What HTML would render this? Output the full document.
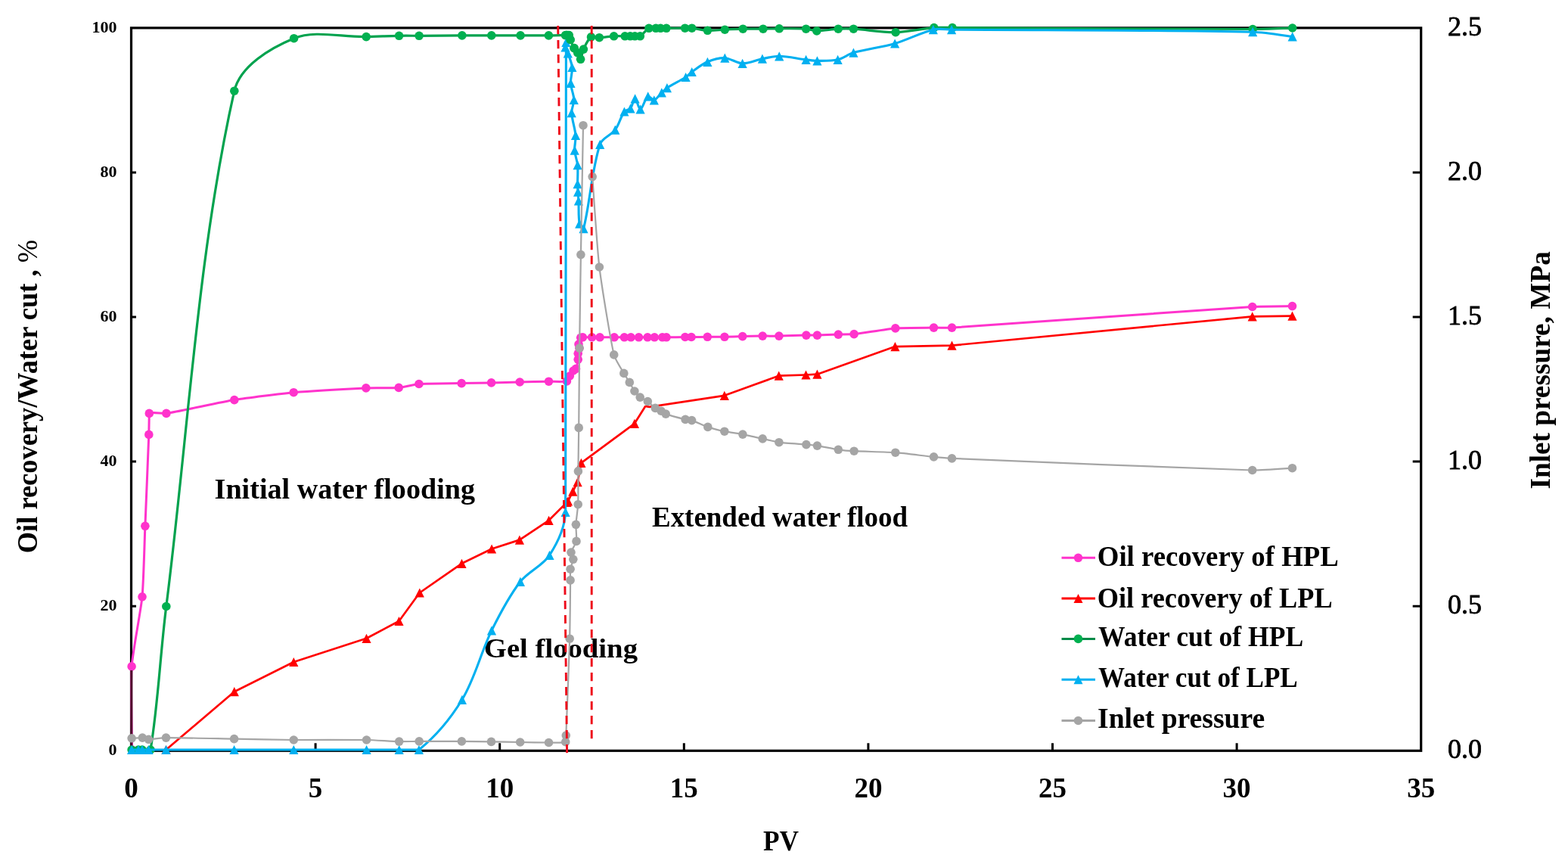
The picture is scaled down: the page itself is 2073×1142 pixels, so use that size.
<!DOCTYPE html>
<html><head><meta charset="utf-8"><title>Chart</title>
<style>html,body{margin:0;padding:0;background:#fff;}svg{display:block;}</style>
</head><body><svg width="2073" height="1142" viewBox="0 0 2073 1142"><rect x="0" y="0" width="2073" height="1142" fill="#fff"/><rect x="173.5" y="36.9" width="1705.2" height="955.4" fill="none" stroke="#000" stroke-width="3.2"/><path d="M417.1,992.3V982.3M660.7,992.3V982.3M904.3,992.3V982.3M1147.9,992.3V982.3M1391.5,992.3V982.3M1635.1,992.3V982.3M173.5,801.2H180.0M1878.7,801.2H1867.7M173.5,610.1H180.0M1878.7,610.1H1867.7M173.5,419.1H180.0M1878.7,419.1H1867.7M173.5,228.0H180.0M1878.7,228.0H1867.7" stroke="#000" stroke-width="3" fill="none"/><text x="154.6" y="998.3" text-anchor="end" font-family="Liberation Serif, serif" font-weight="bold" font-size="22">0</text><text x="154.6" y="807.2" text-anchor="end" font-family="Liberation Serif, serif" font-weight="bold" font-size="22">20</text><text x="154.6" y="616.1" text-anchor="end" font-family="Liberation Serif, serif" font-weight="bold" font-size="22">40</text><text x="154.6" y="425.1" text-anchor="end" font-family="Liberation Serif, serif" font-weight="bold" font-size="22">60</text><text x="154.6" y="234.0" text-anchor="end" font-family="Liberation Serif, serif" font-weight="bold" font-size="22">80</text><text x="154.6" y="42.9" text-anchor="end" font-family="Liberation Serif, serif" font-weight="bold" font-size="22">100</text><text x="1914" y="1002.4" font-family="Liberation Serif, serif" font-size="36" stroke="#000" stroke-width="0.8">0.0</text><text x="1914" y="811.3" font-family="Liberation Serif, serif" font-size="36" stroke="#000" stroke-width="0.8">0.5</text><text x="1914" y="620.2" font-family="Liberation Serif, serif" font-size="36" stroke="#000" stroke-width="0.8">1.0</text><text x="1914" y="429.2" font-family="Liberation Serif, serif" font-size="36" stroke="#000" stroke-width="0.8">1.5</text><text x="1914" y="238.1" font-family="Liberation Serif, serif" font-size="36" stroke="#000" stroke-width="0.8">2.0</text><text x="1914" y="47.0" font-family="Liberation Serif, serif" font-size="36" stroke="#000" stroke-width="0.8">2.5</text><text x="173.5" y="1053.5" text-anchor="middle" font-family="Liberation Serif, serif" font-weight="bold" font-size="37">0</text><text x="417.1" y="1053.5" text-anchor="middle" font-family="Liberation Serif, serif" font-weight="bold" font-size="37">5</text><text x="660.7" y="1053.5" text-anchor="middle" font-family="Liberation Serif, serif" font-weight="bold" font-size="37">10</text><text x="904.3" y="1053.5" text-anchor="middle" font-family="Liberation Serif, serif" font-weight="bold" font-size="37">15</text><text x="1147.9" y="1053.5" text-anchor="middle" font-family="Liberation Serif, serif" font-weight="bold" font-size="37">20</text><text x="1391.5" y="1053.5" text-anchor="middle" font-family="Liberation Serif, serif" font-weight="bold" font-size="37">25</text><text x="1635.1" y="1053.5" text-anchor="middle" font-family="Liberation Serif, serif" font-weight="bold" font-size="37">30</text><text x="1878.7" y="1053.5" text-anchor="middle" font-family="Liberation Serif, serif" font-weight="bold" font-size="37">35</text><text id="t_init" x="283.60" y="659.30" font-family="Liberation Serif, serif" font-weight="bold" font-size="38.00" textLength="344.40" lengthAdjust="spacingAndGlyphs">Initial water flooding</text><text id="t_ext" x="862.00" y="695.60" font-family="Liberation Serif, serif" font-weight="bold" font-size="37.00" textLength="338.00" lengthAdjust="spacingAndGlyphs">Extended water flood</text><text id="t_gel" x="639.80" y="868.80" font-family="Liberation Serif, serif" font-weight="bold" font-size="36.00" textLength="203.20" lengthAdjust="spacingAndGlyphs">Gel flooding</text><text id="t_pv" x="1009.00" y="1124.40" font-family="Liberation Serif, serif" font-weight="bold" font-size="37.00" textLength="47.00" lengthAdjust="spacingAndGlyphs">PV</text><text id="t_left" transform="translate(48.50,731.20) rotate(-90)" font-family="Liberation Serif, serif" font-weight="bold" font-size="37.00" textLength="414.20" lengthAdjust="spacingAndGlyphs">Oil recovery/Water cut , <tspan font-weight="normal">%</tspan></text><text id="t_right" transform="translate(2048.50,646.60) rotate(-90)" font-family="Liberation Serif, serif" font-weight="bold" font-size="37.00" textLength="314.40" lengthAdjust="spacingAndGlyphs">Inlet pressure, MPa</text><path d="M174.6,991.0 C174.5,980.0 172.6,902.8 174.1,880.9 C175.3,862.4 186.2,807.3 188.0,788.8 C189.8,770.2 191.1,714.0 191.9,695.3 C192.9,671.1 195.9,598.6 196.8,574.4 L197.3,546.4 C199.4,543.9 215.4,547.1 219.9,546.4 C237.9,543.5 291.7,531.6 309.8,528.6 C325.4,526.0 372.5,520.1 388.2,518.7 C407.3,517.0 464.7,513.8 483.9,512.9 C492.5,512.5 518.6,513.1 527.2,512.4 C532.6,512.0 548.5,507.9 553.9,507.5 C565.1,506.7 598.9,506.8 610.2,506.6 C618.1,506.5 641.7,506.1 649.6,505.9 C657.1,505.7 679.7,505.2 687.2,505.0 C694.9,504.8 717.8,504.3 725.5,504.2 C730.3,504.1 745.2,505.0 749.4,503.9 C750.8,503.5 752.5,498.3 753.3,497.0 C754.2,495.6 756.9,491.3 758.0,490.0 C758.6,489.3 761.2,488.2 761.5,487.4 C762.4,485.2 763.9,477.7 764.2,475.2 C764.4,473.6 764.0,468.9 764.2,467.3 C764.4,465.9 765.8,461.7 765.9,460.3 C766.0,459.2 764.9,456.0 765.0,455.0 C765.2,453.2 766.9,447.7 767.7,446.3 C768.0,445.9 769.9,445.8 770.4,445.8 C772.8,445.7 780.2,445.8 782.6,445.8 C784.7,445.8 790.9,445.8 793.0,445.8 C796.8,445.8 808.3,445.8 812.1,445.8 C814.8,445.8 822.7,445.8 825.4,445.8 C827.1,445.8 832.4,445.8 834.1,445.8 C836.2,445.8 842.4,445.8 844.5,445.8 C846.8,445.8 853.8,445.8 856.1,445.8 C857.9,445.8 863.5,445.8 865.3,445.8 C867.4,445.8 873.6,445.8 875.7,445.8 C876.8,445.8 879.9,445.8 881.0,445.8 C886.0,445.8 900.8,445.5 905.8,445.5 C907.4,445.5 912.4,445.5 914.0,445.5 C918.3,445.5 931.0,445.3 935.3,445.3 C939.8,445.3 953.4,445.4 957.9,445.3 C962.7,445.2 976.9,444.7 981.7,444.6 C987.0,444.5 1002.9,444.2 1008.2,444.1 C1012.5,444.1 1025.6,444.2 1029.9,444.1 C1037.1,444.0 1058.7,443.2 1065.9,443.1 C1068.8,443.0 1077.5,443.2 1080.4,443.1 C1086.0,443.0 1102.7,442.3 1108.3,442.1 C1112.5,442.0 1125.0,442.0 1129.1,441.6 C1140.1,440.4 1172.8,434.8 1183.8,433.9 C1193.9,433.1 1224.4,433.2 1234.5,433.1 C1239.3,433.0 1253.7,433.4 1258.5,433.1 C1338.0,427.9 1576.2,410.5 1655.7,405.5 C1666.2,404.8 1703.2,404.7 1708.5,404.6" fill="none" stroke="#FF33CC" stroke-width="3.0" stroke-linejoin="round"/><g fill="#FF33CC"><circle cx="174.6" cy="991.0" r="5.8"/><circle cx="174.1" cy="880.9" r="5.8"/><circle cx="188.0" cy="788.8" r="5.8"/><circle cx="191.9" cy="695.3" r="5.8"/><circle cx="196.8" cy="574.4" r="5.8"/><circle cx="197.3" cy="546.4" r="5.8"/><circle cx="219.9" cy="546.4" r="5.8"/><circle cx="309.8" cy="528.6" r="5.8"/><circle cx="388.2" cy="518.7" r="5.8"/><circle cx="483.9" cy="512.9" r="5.8"/><circle cx="527.2" cy="512.4" r="5.8"/><circle cx="553.9" cy="507.5" r="5.8"/><circle cx="610.2" cy="506.6" r="5.8"/><circle cx="649.6" cy="505.9" r="5.8"/><circle cx="687.2" cy="505.0" r="5.8"/><circle cx="725.5" cy="504.2" r="5.8"/><circle cx="749.4" cy="503.9" r="5.8"/><circle cx="753.3" cy="497.0" r="5.8"/><circle cx="758.0" cy="490.0" r="5.8"/><circle cx="761.5" cy="487.4" r="5.8"/><circle cx="764.2" cy="475.2" r="5.8"/><circle cx="764.2" cy="467.3" r="5.8"/><circle cx="765.9" cy="460.3" r="5.8"/><circle cx="765.0" cy="455.0" r="5.8"/><circle cx="767.7" cy="446.3" r="5.8"/><circle cx="770.4" cy="445.8" r="5.8"/><circle cx="782.6" cy="445.8" r="5.8"/><circle cx="793.0" cy="445.8" r="5.8"/><circle cx="812.1" cy="445.8" r="5.8"/><circle cx="825.4" cy="445.8" r="5.8"/><circle cx="834.1" cy="445.8" r="5.8"/><circle cx="844.5" cy="445.8" r="5.8"/><circle cx="856.1" cy="445.8" r="5.8"/><circle cx="865.3" cy="445.8" r="5.8"/><circle cx="875.7" cy="445.8" r="5.8"/><circle cx="881.0" cy="445.8" r="5.8"/><circle cx="905.8" cy="445.5" r="5.8"/><circle cx="914.0" cy="445.5" r="5.8"/><circle cx="935.3" cy="445.3" r="5.8"/><circle cx="957.9" cy="445.3" r="5.8"/><circle cx="981.7" cy="444.6" r="5.8"/><circle cx="1008.2" cy="444.1" r="5.8"/><circle cx="1029.9" cy="444.1" r="5.8"/><circle cx="1065.9" cy="443.1" r="5.8"/><circle cx="1080.4" cy="443.1" r="5.8"/><circle cx="1108.3" cy="442.1" r="5.8"/><circle cx="1129.1" cy="441.6" r="5.8"/><circle cx="1183.8" cy="433.9" r="5.8"/><circle cx="1234.5" cy="433.1" r="5.8"/><circle cx="1258.5" cy="433.1" r="5.8"/><circle cx="1655.7" cy="405.5" r="5.8"/><circle cx="1708.5" cy="404.6" r="5.8"/></g><path d="M173.8,886V992" stroke="#52102F" stroke-width="3"/><path d="M219.5,991.0 L309.8,914.2 L388.3,875.0 L484.5,843.8 L527.5,821.0 L554.8,783.5 L610.5,744.8 L650.1,725.5 L686.9,713.6 L725.6,687.8 L749.5,663.9 L751.0,662.3 L757.3,649.7 L763.6,637.1 L768.4,611.9 L838.9,559.8 L853.2,537.0 L858.6,537.8 L957.8,522.8 L1029.7,496.7 L1065.5,495.5 L1080.4,494.7 L1183.4,458.1 L1258.5,456.6 L1655.7,418.3 L1708.5,417.6" fill="none" stroke="#FF0000" stroke-width="2.7" stroke-linejoin="round"/><g fill="#FF0000"><path d="M219.5,984.9L225.6,997.1L213.4,997.1ZM309.8,908.1L315.9,920.3L303.7,920.3ZM388.3,868.9L394.4,881.1L382.2,881.1ZM484.5,837.7L490.6,849.9L478.4,849.9ZM527.5,814.9L533.6,827.1L521.4,827.1ZM554.8,777.4L560.9,789.6L548.7,789.6ZM610.5,738.7L616.6,750.9L604.4,750.9ZM650.1,719.4L656.2,731.6L644.0,731.6ZM686.9,707.5L693.0,719.7L680.8,719.7ZM725.6,681.7L731.7,693.9L719.5,693.9ZM749.5,657.8L755.6,670.0L743.4,670.0ZM751.0,656.2L757.1,668.4L744.9,668.4ZM757.3,643.6L763.4,655.8L751.2,655.8ZM763.6,631.0L769.7,643.2L757.5,643.2ZM768.4,605.8L774.5,618.0L762.3,618.0ZM838.9,553.7L845.0,565.9L832.8,565.9ZM957.8,516.7L963.9,528.9L951.7,528.9ZM1029.7,490.6L1035.8,502.8L1023.6,502.8ZM1065.5,489.4L1071.6,501.6L1059.4,501.6ZM1080.4,488.6L1086.5,500.8L1074.3,500.8ZM1183.4,452.0L1189.5,464.2L1177.3,464.2ZM1258.5,450.5L1264.6,462.7L1252.4,462.7ZM1655.7,412.2L1661.8,424.4L1649.6,424.4ZM1708.5,411.5L1714.6,423.7L1702.4,423.7Z"/></g><path d="M174.1,991.0 L183.0,991.0 L188.0,991.0 L199.0,991.0 C209.0,931.3 211.8,864.5 219.8,801.5 C248.7,574.3 261.0,337.3 309.8,120.2 C317.3,87.0 358.2,63.2 388.6,50.7 C416.3,39.3 452.3,49.4 484.2,48.6 C498.7,48.2 513.1,47.6 527.6,47.3 C536.4,47.1 545.3,47.3 554.1,47.3 C573.0,47.2 592.0,47.0 610.9,46.9 C623.9,46.8 636.8,46.9 649.8,46.9 C662.6,46.9 675.3,46.9 688.1,46.9 C700.5,46.9 713.0,47.0 725.4,46.9 C732.8,46.9 740.1,46.7 747.5,46.6 C749.0,46.6 751.2,45.8 752.1,46.6 C753.3,47.7 753.2,50.6 754.0,52.5 C755.5,56.3 757.1,60.1 759.1,63.6 C760.4,65.8 762.4,67.6 763.7,69.8 C765.3,72.5 766.6,78.9 767.6,78.3 C769.1,77.4 769.5,69.2 771.4,65.1 C774.1,59.4 777.1,52.2 781.5,48.9 C784.0,47.0 788.7,49.8 792.3,49.7 C798.7,49.5 805.2,48.2 811.6,47.8 C816.5,47.5 821.3,47.8 826.2,47.8 C828.5,47.8 830.9,47.8 833.2,47.8 C835.2,47.8 837.3,47.8 839.3,47.8 C841.6,47.8 844.4,48.9 846.3,47.8 C850.6,45.4 853.5,39.5 857.9,37.3 C860.5,36.0 864.0,37.3 867.1,37.3 C869.2,37.3 871.2,37.3 873.3,37.3 C875.9,37.3 878.4,37.3 881.0,37.3 C889.2,37.3 897.4,37.2 905.6,37.2 C908.6,37.2 911.7,36.9 914.7,37.2 C921.6,37.9 928.5,40.0 935.4,40.3 C943.0,40.6 950.7,39.5 958.3,39.2 C966.3,38.8 974.2,38.4 982.2,38.2 C991.1,38.0 1000.0,38.3 1008.9,38.2 C1016.0,38.1 1023.1,37.8 1030.2,37.8 C1042.0,37.8 1053.9,37.5 1065.6,38.2 C1070.4,38.5 1075.0,40.9 1079.8,40.9 C1089.2,40.9 1098.7,38.7 1108.2,38.2 C1114.9,37.8 1121.7,37.8 1128.4,38.2 C1147.0,39.3 1165.6,43.0 1184.1,42.7 C1201.0,42.4 1217.9,38.0 1234.8,36.6 C1242.9,35.9 1251.0,36.6 1259.1,36.6 C1391.5,37.2 1523.8,38.4 1656.2,38.5 C1673.7,38.5 1700.0,37.2 1708.7,37.0" fill="none" stroke="#00A24E" stroke-width="3.2" stroke-linejoin="round"/><g fill="#00B050"><circle cx="174.1" cy="991.0" r="5.8"/><circle cx="183.0" cy="991.0" r="5.8"/><circle cx="188.0" cy="991.0" r="5.8"/><circle cx="199.0" cy="991.0" r="5.8"/><circle cx="219.8" cy="801.5" r="5.8"/><circle cx="309.8" cy="120.2" r="5.8"/><circle cx="388.6" cy="50.7" r="5.8"/><circle cx="484.2" cy="48.6" r="5.8"/><circle cx="527.6" cy="47.3" r="5.8"/><circle cx="554.1" cy="47.3" r="5.8"/><circle cx="610.9" cy="46.9" r="5.8"/><circle cx="649.8" cy="46.9" r="5.8"/><circle cx="688.1" cy="46.9" r="5.8"/><circle cx="725.4" cy="46.9" r="5.8"/><circle cx="747.5" cy="46.6" r="5.8"/><circle cx="752.1" cy="46.6" r="5.8"/><circle cx="754.0" cy="52.5" r="5.8"/><circle cx="759.1" cy="63.6" r="5.8"/><circle cx="763.7" cy="69.8" r="5.8"/><circle cx="767.6" cy="78.3" r="5.8"/><circle cx="771.4" cy="65.1" r="5.8"/><circle cx="781.5" cy="48.9" r="5.8"/><circle cx="792.3" cy="49.7" r="5.8"/><circle cx="811.6" cy="47.8" r="5.8"/><circle cx="826.2" cy="47.8" r="5.8"/><circle cx="833.2" cy="47.8" r="5.8"/><circle cx="839.3" cy="47.8" r="5.8"/><circle cx="846.3" cy="47.8" r="5.8"/><circle cx="857.9" cy="37.3" r="5.8"/><circle cx="867.1" cy="37.3" r="5.8"/><circle cx="873.3" cy="37.3" r="5.8"/><circle cx="881.0" cy="37.3" r="5.8"/><circle cx="905.6" cy="37.2" r="5.8"/><circle cx="914.7" cy="37.2" r="5.8"/><circle cx="935.4" cy="40.3" r="5.8"/><circle cx="958.3" cy="39.2" r="5.8"/><circle cx="982.2" cy="38.2" r="5.8"/><circle cx="1008.9" cy="38.2" r="5.8"/><circle cx="1030.2" cy="37.8" r="5.8"/><circle cx="1065.6" cy="38.2" r="5.8"/><circle cx="1079.8" cy="40.9" r="5.8"/><circle cx="1108.2" cy="38.2" r="5.8"/><circle cx="1128.4" cy="38.2" r="5.8"/><circle cx="1184.1" cy="42.7" r="5.8"/><circle cx="1234.8" cy="36.6" r="5.8"/><circle cx="1259.1" cy="36.6" r="5.8"/><circle cx="1656.2" cy="38.5" r="5.8"/><circle cx="1708.7" cy="37.0" r="5.8"/></g><path d="M174.1,991.0 L183.0,991.0 L188.0,991.0 L196.5,991.0 L219.5,991.0 L309.6,991.0 L388.3,991.0 L484.6,991.0 L527.7,991.0 L553.9,991.0 C575.2,974.0 595.9,949.4 610.9,924.8 C628.0,896.8 635.4,863.1 650.0,833.4 C661.0,811.1 672.9,788.4 687.9,768.8 C698.4,755.2 717.3,748.0 726.5,733.8 C737.2,717.3 746.9,696.9 747.6,676.8 L748.4,56.0 C748.4,53.9 747.2,60.4 747.5,62.5 C748.0,65.2 749.9,67.7 750.8,70.4 C752.9,76.5 755.8,82.7 756.4,89.0 C757.0,95.8 754.1,103.0 754.5,109.9 C754.9,117.3 758.6,124.6 758.8,131.9 C759.0,137.6 755.4,143.4 755.7,149.1 C756.2,159.0 760.2,168.9 761.0,178.9 C761.5,185.4 759.3,192.1 759.7,198.6 C760.1,205.2 763.0,211.6 763.6,218.2 C764.3,226.5 763.5,234.9 763.6,243.2 C763.6,246.7 763.9,250.2 764.1,253.7 C764.3,257.6 764.7,261.6 764.9,265.5 C765.4,275.6 764.5,286.1 766.2,295.7 C766.7,298.4 770.9,304.6 771.5,302.2 C779.9,269.6 782.0,225.8 793.2,190.8 C795.9,182.3 807.9,179.0 813.3,171.7 C818.6,164.6 820.4,154.6 825.4,147.5 C827.1,145.1 831.7,145.5 833.5,143.3 C836.4,139.8 837.5,130.1 839.6,130.3 C841.9,130.5 844.1,144.8 846.6,144.4 C849.8,143.8 852.6,130.0 856.7,127.3 C858.7,126.0 862.4,133.0 864.8,132.3 C868.4,131.3 871.4,125.5 874.8,122.3 C877.1,120.2 879.3,117.9 881.9,116.2 C889.9,111.1 898.7,107.1 906.6,102.0 C909.6,100.1 911.8,97.0 914.7,95.0 C921.4,90.3 928.0,84.9 935.4,81.8 C942.5,78.8 950.7,76.4 958.3,76.7 C966.1,77.0 973.8,83.6 981.6,83.8 C990.3,84.0 999.1,79.4 1007.9,77.7 C1015.3,76.3 1022.8,74.2 1030.2,74.3 C1042.0,74.5 1053.8,77.4 1065.6,78.8 C1070.5,79.4 1075.5,80.4 1080.4,80.4 C1089.5,80.4 1098.9,80.8 1107.6,78.8 C1114.9,77.2 1121.1,71.7 1128.4,69.6 C1146.3,64.6 1165.2,62.7 1183.1,57.5 C1200.3,52.5 1216.6,43.4 1233.8,39.2 C1241.6,37.3 1250.0,39.1 1258.1,39.2 C1390.8,40.1 1523.6,39.5 1656.2,42.2 C1673.8,42.6 1700.0,47.4 1708.7,48.4" fill="none" stroke="#00B0F0" stroke-width="3.1" stroke-linejoin="round"/><g fill="#00B0F0"><path d="M174.1,984.9L180.2,997.1L168.0,997.1ZM183.0,984.9L189.1,997.1L176.9,997.1ZM188.0,984.9L194.1,997.1L181.9,997.1ZM196.5,984.9L202.6,997.1L190.4,997.1ZM219.5,984.9L225.6,997.1L213.4,997.1ZM309.6,984.9L315.7,997.1L303.5,997.1ZM388.3,984.9L394.4,997.1L382.2,997.1ZM484.6,984.9L490.7,997.1L478.5,997.1ZM527.7,984.9L533.8,997.1L521.6,997.1ZM553.9,984.9L560.0,997.1L547.8,997.1ZM610.9,918.7L617.0,930.9L604.8,930.9ZM650.0,827.3L656.1,839.5L643.9,839.5ZM687.9,762.7L694.0,774.9L681.8,774.9ZM726.5,727.7L732.6,739.9L720.4,739.9ZM747.6,670.7L753.7,682.9L741.5,682.9ZM748.4,49.9L754.5,62.1L742.3,62.1ZM747.5,56.4L753.6,68.6L741.4,68.6ZM750.8,64.3L756.9,76.5L744.7,76.5ZM756.4,82.9L762.5,95.1L750.3,95.1ZM754.5,103.8L760.6,116.0L748.4,116.0ZM758.8,125.8L764.9,138.0L752.7,138.0ZM755.7,143.0L761.8,155.2L749.6,155.2ZM761.0,172.8L767.1,185.0L754.9,185.0ZM759.7,192.5L765.8,204.7L753.6,204.7ZM763.6,212.1L769.7,224.3L757.5,224.3ZM763.6,237.1L769.7,249.3L757.5,249.3ZM764.1,247.6L770.2,259.8L758.0,259.8ZM764.9,259.4L771.0,271.6L758.8,271.6ZM766.2,289.6L772.3,301.8L760.1,301.8ZM771.5,296.1L777.6,308.3L765.4,308.3ZM793.2,184.7L799.3,196.9L787.1,196.9ZM813.3,165.6L819.4,177.8L807.2,177.8ZM825.4,141.4L831.5,153.6L819.3,153.6ZM833.5,137.2L839.6,149.4L827.4,149.4ZM839.6,124.2L845.7,136.4L833.5,136.4ZM846.6,138.3L852.7,150.5L840.5,150.5ZM856.7,121.2L862.8,133.4L850.6,133.4ZM864.8,126.2L870.9,138.4L858.7,138.4ZM874.8,116.2L880.9,128.4L868.7,128.4ZM881.9,110.1L888.0,122.3L875.8,122.3ZM906.6,95.9L912.7,108.1L900.5,108.1ZM914.7,88.9L920.8,101.1L908.6,101.1ZM935.4,75.7L941.5,87.9L929.3,87.9ZM958.3,70.6L964.4,82.8L952.2,82.8ZM981.6,77.7L987.7,89.9L975.5,89.9ZM1007.9,71.6L1014.0,83.8L1001.8,83.8ZM1030.2,68.2L1036.3,80.4L1024.1,80.4ZM1065.6,72.7L1071.7,84.9L1059.5,84.9ZM1080.4,74.3L1086.5,86.5L1074.3,86.5ZM1107.6,72.7L1113.7,84.9L1101.5,84.9ZM1128.4,63.5L1134.5,75.7L1122.3,75.7ZM1183.1,51.4L1189.2,63.6L1177.0,63.6ZM1233.8,33.1L1239.9,45.3L1227.7,45.3ZM1258.1,33.1L1264.2,45.3L1252.0,45.3ZM1656.2,36.1L1662.3,48.3L1650.1,48.3ZM1708.7,42.3L1714.8,54.5L1702.6,54.5Z"/></g><path d="M174.1,975.8 C175.5,975.7 185.5,974.9 188.3,975.1 C190.0,975.2 194.8,977.3 196.5,977.3 C201.1,977.3 214.9,975.1 219.5,975.1 C237.5,975.0 291.6,976.3 309.6,976.6 C325.3,976.9 372.6,977.9 388.3,978.0 C407.6,978.2 465.3,977.7 484.6,978.0 C493.2,978.1 519.1,979.9 527.7,980.1 C533.0,980.2 548.9,979.9 554.2,979.9 C565.4,979.9 599.2,979.8 610.4,979.9 C618.2,979.9 641.7,980.3 649.5,980.4 C657.1,980.5 680.1,980.9 687.7,981.0 C695.3,981.1 717.9,981.5 725.5,981.5 C729.9,981.5 744.4,982.1 747.7,980.7 C749.0,980.2 748.2,973.8 748.3,972.1 C749.3,946.5 752.5,869.8 753.2,844.2 C753.6,828.7 753.9,782.4 754.1,766.9 C754.1,764.0 753.7,755.1 754.1,752.2 C754.5,749.6 757.7,741.9 757.8,739.3 C757.9,737.5 754.7,731.9 755.0,730.1 C755.5,727.1 761.5,718.5 762.0,715.4 C762.7,711.2 761.2,697.7 761.4,693.3 C761.6,688.0 764.0,672.0 764.2,666.7 C764.6,658.0 764.3,631.7 764.4,622.9 C764.5,611.4 765.1,576.9 765.2,565.4 C765.4,544.3 765.9,481.2 766.1,460.1 C766.4,435.4 767.5,361.3 767.9,336.6 C768.5,302.4 770.7,182.8 771.0,165.7 M783.2,233.6 C784.1,245.5 789.5,329.2 792.4,353.0 C795.2,376.3 806.5,446.2 811.7,468.9 C812.9,474.3 822.1,488.6 824.8,493.4 C826.2,495.9 830.8,503.0 832.3,505.4 C833.7,507.7 837.4,514.8 838.9,517.0 C840.2,518.8 844.5,523.8 846.2,525.1 C848.0,526.5 854.4,529.2 856.3,530.5 C858.5,532.0 864.1,537.9 866.3,539.4 C867.7,540.4 872.5,542.4 874.0,543.2 C875.3,543.9 878.8,546.6 880.2,547.1 C885.2,548.9 900.9,553.1 906.1,554.4 C907.8,554.8 913.0,555.1 914.6,555.6 C918.9,557.1 931.5,562.9 935.8,564.4 C940.1,565.9 953.4,569.3 957.8,570.2 C962.6,571.2 977.1,573.2 981.9,574.1 C987.2,575.1 1002.9,578.7 1008.2,579.9 C1012.5,580.9 1025.5,584.1 1029.9,584.7 C1037.0,585.7 1058.7,587.0 1065.9,587.6 C1068.8,587.9 1077.5,588.6 1080.4,589.1 C1086.0,590.0 1102.7,593.5 1108.3,594.3 C1112.4,594.9 1124.9,596.0 1129.1,596.2 C1140.0,596.8 1172.9,597.4 1183.8,598.2 C1194.0,598.9 1224.4,602.9 1234.5,603.9 C1239.3,604.4 1253.7,605.7 1258.5,605.9 C1337.9,609.2 1576.3,619.2 1655.7,621.5 C1666.3,621.8 1703.2,619.0 1708.5,618.7" fill="none" stroke="#A5A5A5" stroke-width="2.2" stroke-linejoin="round"/><g fill="#A5A5A5"><circle cx="174.1" cy="975.8" r="5.8"/><circle cx="188.3" cy="975.1" r="5.8"/><circle cx="196.5" cy="977.3" r="5.8"/><circle cx="219.5" cy="975.1" r="5.8"/><circle cx="309.6" cy="976.6" r="5.8"/><circle cx="388.3" cy="978.0" r="5.8"/><circle cx="484.6" cy="978.0" r="5.8"/><circle cx="527.7" cy="980.1" r="5.8"/><circle cx="554.2" cy="979.9" r="5.8"/><circle cx="610.4" cy="979.9" r="5.8"/><circle cx="649.5" cy="980.4" r="5.8"/><circle cx="687.7" cy="981.0" r="5.8"/><circle cx="725.5" cy="981.5" r="5.8"/><circle cx="747.7" cy="980.7" r="5.8"/><circle cx="748.3" cy="972.1" r="5.8"/><circle cx="753.2" cy="844.2" r="5.8"/><circle cx="754.1" cy="766.9" r="5.8"/><circle cx="754.1" cy="752.2" r="5.8"/><circle cx="757.8" cy="739.3" r="5.8"/><circle cx="755.0" cy="730.1" r="5.8"/><circle cx="762.0" cy="715.4" r="5.8"/><circle cx="761.4" cy="693.3" r="5.8"/><circle cx="764.2" cy="666.7" r="5.8"/><circle cx="764.4" cy="622.9" r="5.8"/><circle cx="765.2" cy="565.4" r="5.8"/><circle cx="766.1" cy="460.1" r="5.8"/><circle cx="767.9" cy="336.6" r="5.8"/><circle cx="771.0" cy="165.7" r="5.8"/><circle cx="783.2" cy="233.6" r="5.8"/><circle cx="792.4" cy="353.0" r="5.8"/><circle cx="811.7" cy="468.9" r="5.8"/><circle cx="824.8" cy="493.4" r="5.8"/><circle cx="832.3" cy="505.4" r="5.8"/><circle cx="838.9" cy="517.0" r="5.8"/><circle cx="846.2" cy="525.1" r="5.8"/><circle cx="856.3" cy="530.5" r="5.8"/><circle cx="866.3" cy="539.4" r="5.8"/><circle cx="874.0" cy="543.2" r="5.8"/><circle cx="880.2" cy="547.1" r="5.8"/><circle cx="906.1" cy="554.4" r="5.8"/><circle cx="914.6" cy="555.6" r="5.8"/><circle cx="935.8" cy="564.4" r="5.8"/><circle cx="957.8" cy="570.2" r="5.8"/><circle cx="981.9" cy="574.1" r="5.8"/><circle cx="1008.2" cy="579.9" r="5.8"/><circle cx="1029.9" cy="584.7" r="5.8"/><circle cx="1065.9" cy="587.6" r="5.8"/><circle cx="1080.4" cy="589.1" r="5.8"/><circle cx="1108.3" cy="594.3" r="5.8"/><circle cx="1129.1" cy="596.2" r="5.8"/><circle cx="1183.8" cy="598.2" r="5.8"/><circle cx="1234.5" cy="603.9" r="5.8"/><circle cx="1258.5" cy="605.9" r="5.8"/><circle cx="1655.7" cy="621.5" r="5.8"/><circle cx="1708.5" cy="618.7" r="5.8"/></g><g fill="#00B050"><circle cx="749.3" cy="46.2" r="5.8"/><circle cx="752.1" cy="46.6" r="5.8"/><circle cx="754.0" cy="52.5" r="5.8"/><circle cx="759.1" cy="63.6" r="5.8"/></g><g stroke="#EE0A1A" stroke-width="2.9" stroke-dasharray="11.2,7.8" fill="none"><path d="M737.7,34 L749.7,1002.5"/><path d="M782.2,34 L782.2,984"/></g><path d="M1403.5,737.3H1448" stroke="#FF33CC" stroke-width="3"/><circle cx="1425.5" cy="737.3" r="5.8" fill="#FF33CC"/><path d="M1403.5,791.0H1448" stroke="#FF0000" stroke-width="3"/><path d="M1425.5,785.0L1431.5,797.0L1419.5,797.0Z" fill="#FF0000"/><path d="M1403.5,844.4H1448" stroke="#008A48" stroke-width="3"/><circle cx="1425.5" cy="844.4" r="5.8" fill="#00B050"/><path d="M1403.5,898.2H1448" stroke="#00B0F0" stroke-width="3"/><path d="M1425.5,892.2L1431.5,904.2L1419.5,904.2Z" fill="#00B0F0"/><path d="M1403.5,952.5H1448" stroke="#A5A5A5" stroke-width="3"/><circle cx="1425.5" cy="952.5" r="5.8" fill="#A5A5A5"/><text id="l1" x="1450.80" y="748.00" font-family="Liberation Serif, serif" font-weight="bold" font-size="37.00" textLength="319.00" lengthAdjust="spacingAndGlyphs">Oil recovery of HPL</text><text id="l2" x="1450.80" y="802.60" font-family="Liberation Serif, serif" font-weight="bold" font-size="37.00" textLength="310.80" lengthAdjust="spacingAndGlyphs">Oil recovery of LPL</text><text id="l3" x="1452.00" y="853.80" font-family="Liberation Serif, serif" font-weight="bold" font-size="37.00" textLength="271.20" lengthAdjust="spacingAndGlyphs">Water cut of HPL</text><text id="l4" x="1452.00" y="908.40" font-family="Liberation Serif, serif" font-weight="bold" font-size="37.00" textLength="263.80" lengthAdjust="spacingAndGlyphs">Water cut of LPL</text><text id="l5" x="1451.00" y="962.00" font-family="Liberation Serif, serif" font-weight="bold" font-size="37.00" textLength="221.20" lengthAdjust="spacingAndGlyphs">Inlet pressure</text></svg></body></html>
